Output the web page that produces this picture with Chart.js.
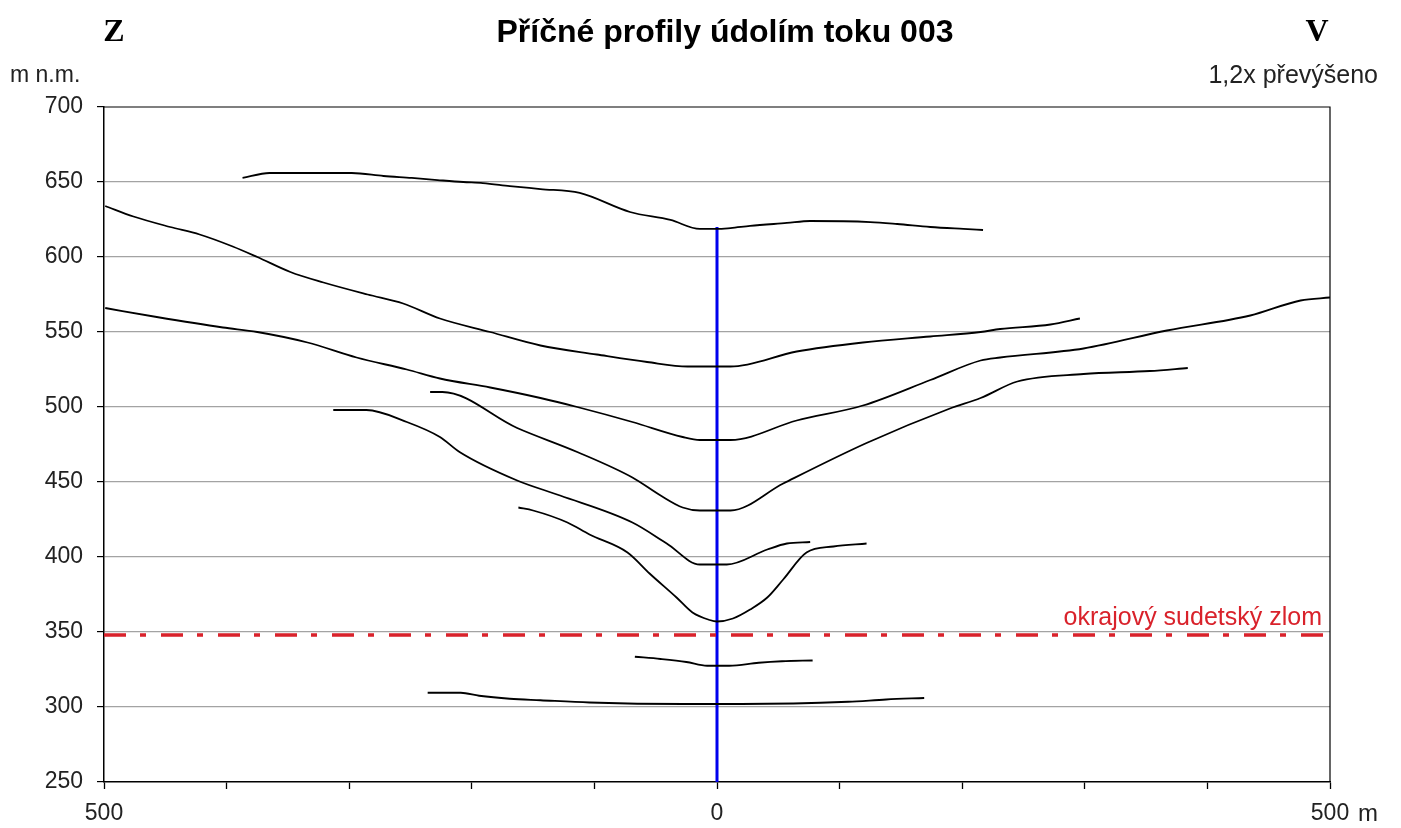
<!DOCTYPE html>
<html>
<head>
<meta charset="utf-8">
<script src="https://cdn.jsdelivr.net/npm/chart.js@4.4.1/dist/chart.umd.min.js"></script>
<style>
  html, body { margin: 0; padding: 0; background: #fff; }
  #wrap { width: 1401px; height: 828px; }
</style>
</head>
<body>
<div id="wrap"><canvas id="profiles" width="1401" height="828"></canvas></div>
<script>
// profile distance from valley axis (m, west negative) and elevation (m n.m.)
const prof1Dist = [-387, -365, -298, -272, -249, -228, -207, -191, -169, -144, -112, -71, -38, -14, 0, 11, 27, 57, 76, 125, 147, 174, 201, 217];
const prof1Elev = [652.7, 656, 656, 654, 652.7, 651.3, 650, 649.3, 647.3, 645.3, 642.7, 630, 624.7, 618.7, 618.7, 619.3, 620.7, 622.7, 624, 623.3, 622, 620, 618.7, 618];

const prof2Dist = [-499, -476, -446, -422, -395, -375, -348, -321, -285, -256, -226, -185, -144, -98, -57, -24, 0, 11, 65, 119, 174, 215, 231, 272, 296];
const prof2Elev = [634, 627, 620, 615, 607, 600, 590, 583, 575, 569, 559, 550, 541, 535, 530, 527, 527, 527, 537, 543, 547, 550, 552, 555, 559];

const prof3Dist = [-499, -457, -403, -375, -334, -294, -253, -226, -185, -144, -114, -69, -28, -14, 0, 11, 65, 119, 174, 215, 231, 299, 367, 435, 476, 500];
const prof3Elev = [566, 560, 553, 550, 543, 533, 525, 519, 513, 506, 500, 490, 480, 478, 478, 478, 491, 501, 518, 531, 533, 539, 551, 561, 571, 573];

const prof4Dist = [-234, -224, -163, -114, -69, -46, -28, -14, 0, 11, 54, 122, 190, 215, 245, 299, 353, 384];
const prof4Elev = [510, 510, 486, 470, 453, 441, 433, 431, 431, 431, 449, 476, 499, 506, 517, 522, 524, 526];

const prof5Dist = [-313, -286, -253, -226, -210, -163, -128, -69, -41, -14, 0, 8, 41, 57, 76];
const prof5Elev = [498, 498, 490, 480, 470, 451, 441, 423, 409, 395, 395, 395, 405, 409, 410];

const prof6Dist = [-162, -150, -122, -104, -73, -55, -33, -20, -6, 0, 13, 27, 41, 54, 73, 95, 122];
const prof6Elev = [433, 431, 423, 415, 403, 389, 373, 363, 358, 357, 359, 365, 373, 385, 403, 407, 409];

const prof7Dist = [-67, -46, -25, -8, 10, 34, 53, 78];
const prof7Elev = [333.5, 332, 330, 327.5, 327.5, 329.5, 330.5, 331];

const prof8Dist = [-236, -209, -194, -169, -144, -104, -27, 20, 107, 138, 169];
const prof8Elev = [309.5, 309.5, 307.5, 305.5, 304.5, 303, 302, 302, 303.5, 305, 306];

// valley axis and the marginal fault
const axisDist = [0, 0];
const axisElev = [250, 620];
const faultDist = [-500, 500];
const faultElev = [348, 348];

const xLabels = { '-500': '500', '0': '0', '500': '500' };

function pts(dist, elev) {
  return dist.map((d, i) => ({ x: d, y: elev[i] }));
}

const profiles = [
  [prof1Dist, prof1Elev], [prof2Dist, prof2Elev], [prof3Dist, prof3Elev], [prof4Dist, prof4Elev],
  [prof5Dist, prof5Elev], [prof6Dist, prof6Elev], [prof7Dist, prof7Elev], [prof8Dist, prof8Elev]
];

const datasets = profiles.map(p => ({
  data: pts(p[0], p[1]),
  borderColor: '#000',
  borderWidth: 1.8,
  showLine: true,
  pointRadius: 0,
  cubicInterpolationMode: 'monotone'
}));

datasets.push({
  data: pts(faultDist, faultElev),
  borderColor: '#d9222b',
  borderWidth: 3.5,
  borderDash: [22, 14, 6, 15],
  showLine: true,
  pointRadius: 0
});
datasets.push({
  data: pts(axisDist, axisElev),
  borderColor: '#0000ee',
  borderWidth: 3,
  showLine: true,
  pointRadius: 0
});

// titles, side letters and notes
const textPlugin = {
  id: 'texts',
  afterDraw(chart) {
    const c = chart.ctx;
    const a = chart.chartArea;
    c.save();
    c.strokeStyle = '#000';
    c.lineWidth = 1.2;
    c.beginPath();
    c.moveTo(a.left, a.top);
    c.lineTo(a.right, a.top);
    c.lineTo(a.right, a.bottom);
    c.stroke();

    c.textBaseline = 'alphabetic';
    c.fillStyle = '#000';
    c.font = 'bold 32px "Liberation Serif"';
    c.textAlign = 'center';
    c.fillText('Z', 114, 41);
    c.fillText('V', 1317, 41);

    c.font = 'bold 32px "Liberation Sans"';
    c.fillText('Příčné profily údolím toku 003', 725, 42);

    c.fillStyle = '#222';
    c.font = '23px "Liberation Sans"';
    c.textAlign = 'left';
    c.fillText('m n.m.', 10, 82);
    c.font = '25px "Liberation Sans"';
    c.textAlign = 'right';
    c.fillText('1,2x převýšeno', 1378, 83);

    c.font = '24px "Liberation Sans"';
    c.textAlign = 'left';
    c.fillText('m', 1358, 821);

    c.fillStyle = '#d9222b';
    c.font = '25px "Liberation Sans"';
    c.textAlign = 'right';
    c.fillText('okrajový sudetský zlom', 1322, 625);
    c.restore();
  }
};

new Chart(document.getElementById('profiles'), {
  type: 'scatter',
  data: { datasets: datasets },
  options: {
    responsive: false,
    animation: false,
    layout: { padding: { left: 0, top: 107, right: 71, bottom: 0 } },
    plugins: {
      legend: { display: false },
      tooltip: { enabled: false }
    },
    scales: {
      x: {
        type: 'linear',
        min: -500,
        max: 500,
        afterFit: s => { s.height = 46; },
        border: { color: '#000', width: 1.5 },
        grid: { drawOnChartArea: false, tickLength: 7, tickColor: '#000', tickWidth: 1.3 },
        ticks: {
          stepSize: 100,
          maxRotation: 0,
          autoSkip: false,
          padding: 11,
          color: '#222',
          font: { family: 'Liberation Sans', size: 23 },
          callback: v => xLabels[String(v)] || ''
        }
      },
      y: {
        type: 'linear',
        min: 250,
        max: 700,
        afterFit: s => { s.width = 104; },
        border: { color: '#000', width: 1.5 },
        grid: {
          tickLength: 7,
          tickColor: '#000',
          color: ctx => (ctx.tick && (ctx.tick.value === 250 || ctx.tick.value === 700)) ? 'rgba(0,0,0,0)' : '#a3a3a3',
          lineWidth: 1.2
        },
        ticks: {
          stepSize: 50,
          padding: 14,
          color: '#222',
          font: { family: 'Liberation Sans', size: 23 }
        }
      }
    }
  },
  plugins: [textPlugin]
});
</script>
</body>
</html>
